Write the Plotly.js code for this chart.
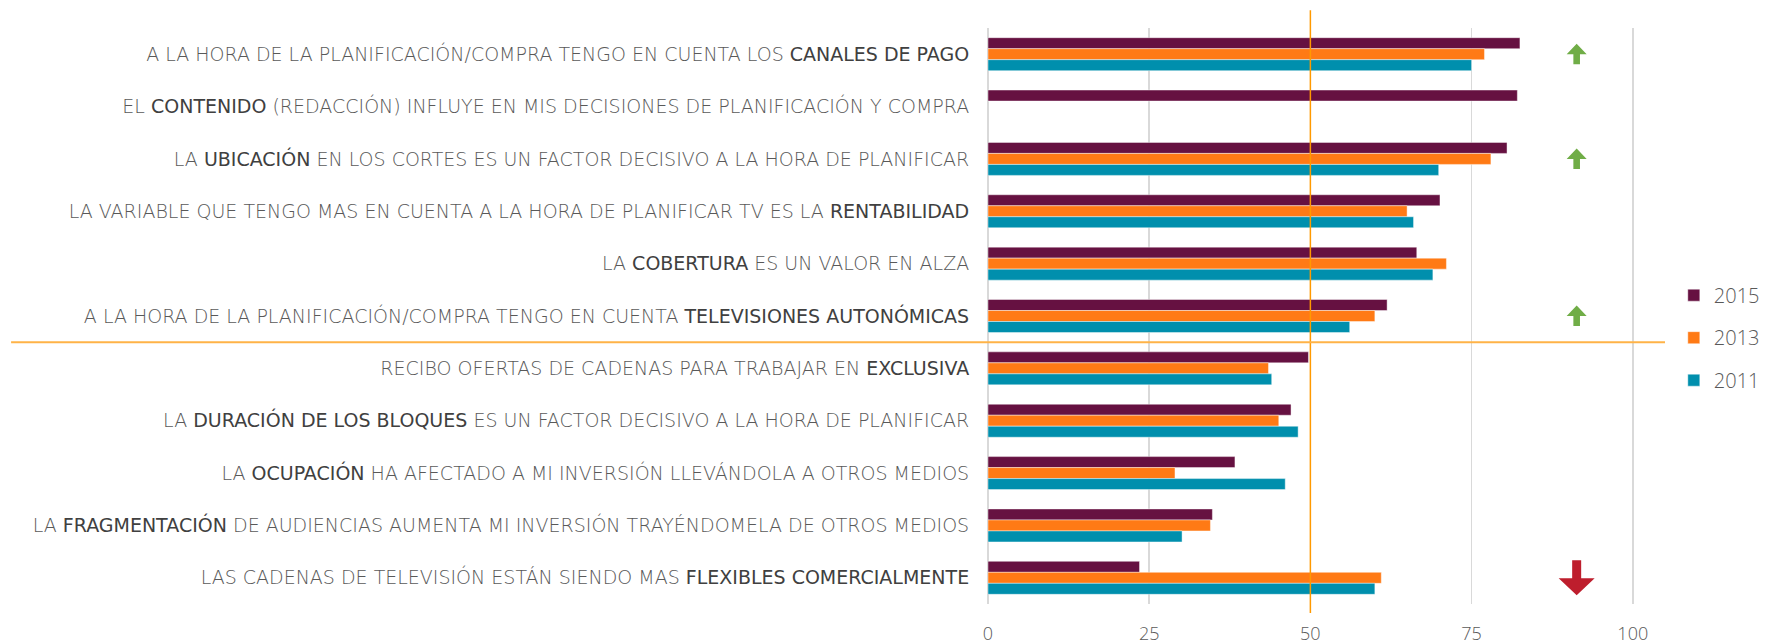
<!DOCTYPE html>
<html>
<head>
<meta charset="utf-8">
<script src="https://cdn.plot.ly/plotly-3.0.1.min.js"></script>
<style>html,body{margin:0;padding:0;background:#fff;}#chart{width:1768px;height:644px;}</style>
</head>
<body>
<div id="chart"></div>
<script>
// Category labels (bold fragments marked)
const categories = [
  "A LA HORA DE LA PLANIFICACIÓN/COMPRA TENGO EN CUENTA LOS <b>CANALES DE PAGO</b>",
  "EL <b>CONTENIDO</b> (REDACCIÓN) INFLUYE EN MIS DECISIONES DE PLANIFICACIÓN Y COMPRA",
  "LA <b>UBICACIÓN</b> EN LOS CORTES ES UN FACTOR DECISIVO A LA HORA DE PLANIFICAR",
  "LA VARIABLE QUE TENGO MAS EN CUENTA A LA HORA DE PLANIFICAR TV ES LA <b>RENTABILIDAD</b>",
  "LA <b>COBERTURA</b> ES UN VALOR EN ALZA",
  "A LA HORA DE LA PLANIFICACIÓN/COMPRA TENGO EN CUENTA <b>TELEVISIONES AUTONÓMICAS</b>",
  "RECIBO OFERTAS DE CADENAS PARA TRABAJAR EN <b>EXCLUSIVA</b>",
  "LA <b>DURACIÓN DE LOS BLOQUES</b> ES UN FACTOR DECISIVO A LA HORA DE PLANIFICAR",
  "LA <b>OCUPACIÓN</b> HA AFECTADO A MI INVERSIÓN LLEVÁNDOLA A OTROS MEDIOS",
  "LA <b>FRAGMENTACIÓN</b> DE AUDIENCIAS AUMENTA MI INVERSIÓN TRAYÉNDOMELA DE OTROS MEDIOS",
  "LAS CADENAS DE TELEVISIÓN ESTÁN SIENDO MAS <b>FLEXIBLES COMERCIALMENTE</b>"
];
const values2015 = [82.5, 82.1, 80.5, 70.1, 66.5, 61.9, 49.7, 47.0, 38.3, 34.8, 23.5];
const values2013 = [77.0, null, 78.0, 65.0, 71.1, 60.0, 43.5, 45.1, 29.0, 34.5, 61.0];
const values2011 = [75.0, null, 69.9, 66.0, 69.0, 56.1, 44.0, 48.1, 46.1, 30.1, 60.0];
const seriesNames = ["2015", "2013", "2011"];
const xTickVals = [0, 25, 50, 75, 100];
const referenceValue = 50;
const dividerAfterRow = 5;
const trendRows = [0, 2, 5, 10];
const trendDirs = ["up", "up", "up", "down"];
const trendX = 91.3;

const colors = ["#661141", "#FF7A15", "#008FAD"];
const series = [values2015, values2013, values2011];
const fontFam = "'Open Sans', Lato, sans-serif";
const labelFam = "'DejaVu Sans', 'Open Sans', sans-serif";
const boldStyle = s => s.replace(/<b>/g, '<span style="font-weight:400;fill:#404040">').replace(/<\/b>/g, '</span>');
const labels = categories.map(boldStyle);

const traces = series.map((vals, i) => ({
  type: 'bar',
  orientation: 'h',
  name: seriesNames[i],
  legendgroup: seriesNames[i],
  x: vals,
  y: labels,
  marker: {color: colors[i], line: {color: 'rgba(255,255,255,0.55)', width: 0.8}},
  hoverinfo: 'x+name'
}));

const upPath = "M0,10.5 L10,0 L3.3,0 L3.3,-10 L-3.3,-10 L-3.3,0 L-10,0 Z";
const downPath = "M-4.5,17.5 L4.5,17.5 L4.5,-0.5 L18,-0.5 L0,-17.5 L-18,-0.5 L-4.5,-0.5 Z";

const shapes = [
  {type: 'line', xref: 'x', yref: 'paper', x0: referenceValue, x1: referenceValue, y0: -0.0156, y1: 1.031,
   line: {color: '#FF9900', width: 1.5}},
  {type: 'line', xref: 'paper', yref: 'y', x0: -1.443, x1: 1.0, y0: dividerAfterRow + 0.5, y1: dividerAfterRow + 0.5,
   line: {color: '#FFB347', width: 2}}
];
trendRows.forEach((r, i) => {
  const up = trendDirs[i] === 'up';
  shapes.push({
    type: 'path', xref: 'x', yref: 'y', xsizemode: 'pixel', ysizemode: 'pixel',
    xanchor: trendX, yanchor: r,
    path: up ? upPath : downPath,
    fillcolor: up ? '#70AD47' : '#BE1E2D', line: {width: 0}
  });
});

const layout = {
  width: 1768, height: 644,
  margin: {l: 988, r: 103, t: 28, b: 40, pad: 0, autoexpand: false},
  paper_bgcolor: '#fff', plot_bgcolor: '#fff',
  barmode: 'group', bargap: 0.37, bargroupgap: 0,
  font: {family: fontFam, color: '#595959', size: 18, weight: 300},
  showlegend: true,
  legend: {x: 1.013, xanchor: 'left', y: 0.57, yanchor: 'top',
           font: {size: 20, color: '#595959', family: fontFam, weight: 300},
           tracegroupgap: 13.5, bgcolor: 'rgba(0,0,0,0)'},
  xaxis: {range: [0, 105], tickvals: xTickVals, showgrid: true, gridcolor: '#D9D9D9', gridwidth: 1.5,
          zeroline: true, zerolinecolor: '#D9D9D9', zerolinewidth: 1.5, showline: false,
          ticks: 'outside', ticklen: 13, tickcolor: 'rgba(0,0,0,0)',
          tickfont: {size: 18, color: '#595959', family: fontFam, weight: 300}, fixedrange: true},
  yaxis: {type: 'category', autorange: 'reversed', showgrid: false, zeroline: false, showline: false,
          ticks: 'outside', ticklen: 14, tickcolor: 'rgba(0,0,0,0)',
          tickfont: {size: 19, color: '#595959', family: labelFam, weight: 200}, fixedrange: true},
  shapes: shapes
};

Plotly.newPlot('chart', traces, layout, {displayModeBar: false, staticPlot: true});
</script>
</body>
</html>
